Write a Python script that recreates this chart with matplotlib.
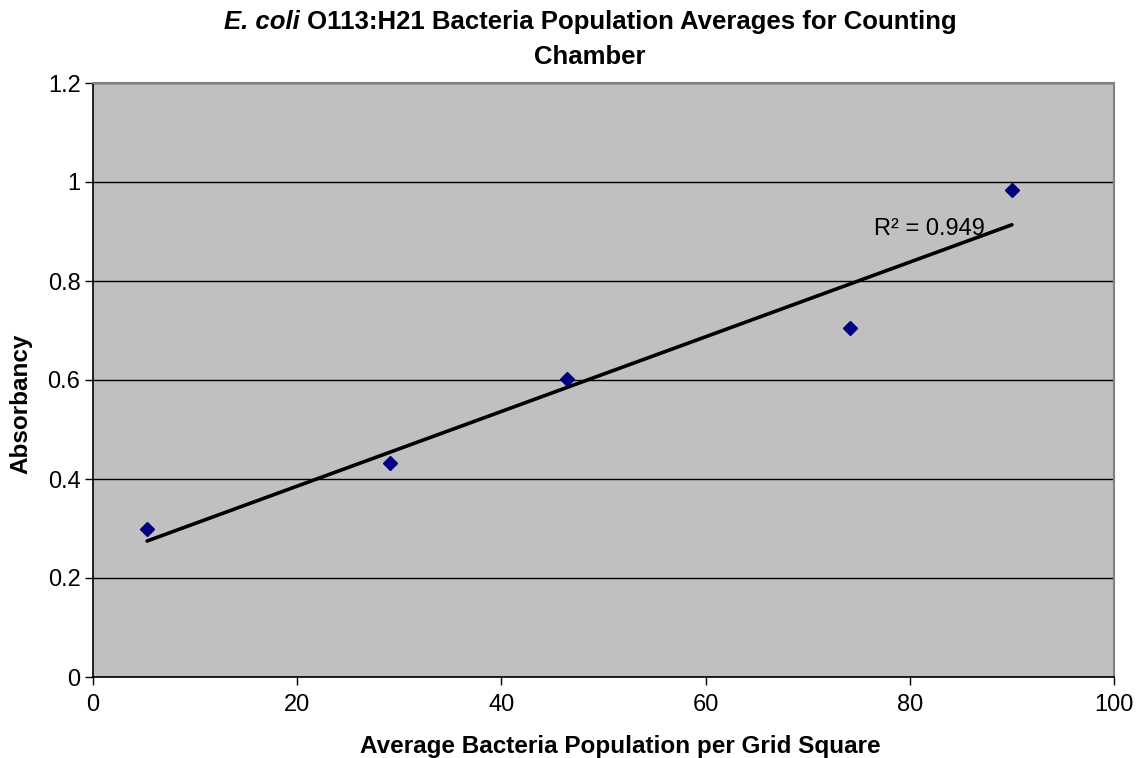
import matplotlib
matplotlib.use("Agg")
import matplotlib.pyplot as plt
import numpy as np

plt.rcParams["font.family"] = ["Liberation Sans", "DejaVu Sans"]

# average bacteria count per grid square vs. measured absorbancy
population = [5.3, 29.1, 46.4, 74.1, 90.0]
absorbancy = [0.298, 0.432, 0.603, 0.705, 0.983]

x_ticks = [0, 20, 40, 60, 80, 100]
y_ticks = [0, 0.2, 0.4, 0.6, 0.8, 1.0, 1.2]
y_tick_labels = ["0", "0.2", "0.4", "0.6", "0.8", "1", "1.2"]

PLOT_GREY = "#C0C0C0"
MARKER_NAVY = "#000080"
W, H = 1141, 758

x = np.array(population)
y = np.array(absorbancy)
slope, intercept = np.polyfit(x, y, 1)
fit = slope * x + intercept
r2 = 1 - np.sum((y - fit) ** 2) / np.sum((y - y.mean()) ** 2)

fig = plt.figure(figsize=(W / 100, H / 100), dpi=100)
ax = fig.add_axes([93 / W, 1 - 677 / H, (1114 - 93) / W, (677 - 83) / H])
ax.set_facecolor(PLOT_GREY)

ax.set_xlim(0, 100)
ax.set_ylim(0, 1.2)
ax.set_xticks(x_ticks)
ax.set_yticks(y_ticks)
ax.set_yticklabels(y_tick_labels)
ax.yaxis.grid(True, color="black", linewidth=1.0)
ax.set_axisbelow(True)

for side in ("top", "right"):
    ax.spines[side].set_color("#808080")
    ax.spines[side].set_linewidth(1.5)
for side in ("left", "bottom"):
    ax.spines[side].set_color("black")
    ax.spines[side].set_linewidth(1.2)

ax.tick_params(direction="out", length=6, width=1.0, labelsize=17)
ax.tick_params(axis="y", pad=3)
ax.tick_params(axis="x", pad=6)

ax.plot([x.min(), x.max()], [slope * x.min() + intercept, slope * x.max() + intercept],
        color="black", linewidth=2.6, solid_capstyle="round", zorder=3)
ax.plot(x, y, linestyle="none", marker="D", markersize=7.5,
        color=MARKER_NAVY, zorder=4)

ax.text(76.5, 0.893, f"R² = {r2:.3f}", fontsize=17, ha="left", va="baseline", zorder=2)

fig.text(620 / W, 1 - 746 / H, "Average Bacteria Population per Grid Square",
         fontsize=17.5, fontweight="bold", ha="center", va="center")
fig.text(21 / W, 1 - 404 / H, "Absorbancy", fontsize=17.5, fontweight="bold",
         rotation=90, ha="center", va="center")

# two-part title: italic species name followed by upright strain text
renderer = fig.canvas.get_renderer()
t1 = fig.text(0, 0, "E. coli", fontsize=18.5, fontweight="bold", style="italic")
t2 = fig.text(0, 0, " O113:H21 Bacteria Population Averages for Counting",
              fontsize=18.5, fontweight="bold")
w1 = t1.get_window_extent(renderer).width
w2 = t2.get_window_extent(renderer).width
cx = 590
left = cx - (w1 + w2) / 2
ybase = H - 29
t1.set_position((left / W, ybase / H))
t2.set_position(((left + w1) / W, ybase / H))
fig.text(cx / W, (H - 64) / H, "Chamber", fontsize=18.5, fontweight="bold",
         ha="center")

fig.savefig("out.png", dpi=100)
